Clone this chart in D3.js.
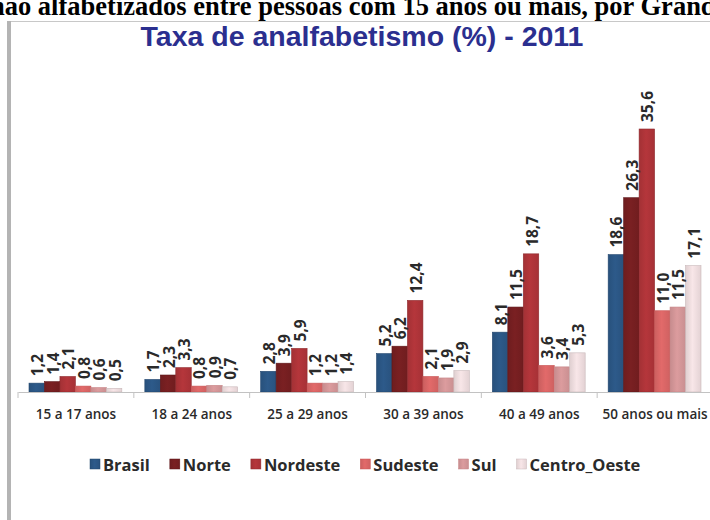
<!DOCTYPE html>
<html>
<head>
<meta charset="utf-8">
<script src="https://cdn.jsdelivr.net/npm/d3@7"></script>
<style>
  body { margin: 0; background: #fff; }
  svg { display: block; }
</style>
</head>
<body>
<div id="chart"></div>
<script>
// data
var categories = ["15 a 17 anos", "18 a 24 anos", "25 a 29 anos", "30 a 39 anos", "40 a 49 anos", "50 anos ou mais"];
var series = ["Brasil", "Norte", "Nordeste", "Sudeste", "Sul", "Centro_Oeste"];
var brasil      = [1.2, 1.7, 2.8, 5.2, 8.1, 18.6];
var norte       = [1.4, 2.3, 3.9, 6.2, 11.5, 26.3];
var nordeste    = [2.1, 3.3, 5.9, 12.4, 18.7, 35.6];
var sudeste     = [0.8, 0.8, 1.2, 2.1, 3.6, 11.0];
var sul         = [0.6, 0.9, 1.2, 1.9, 3.4, 11.5];
var centroOeste = [0.5, 0.7, 1.4, 2.9, 5.3, 17.1];
var values = [brasil, norte, nordeste, sudeste, sul, centroOeste];

var colors = ["#2d5a8a", "#7a2022", "#b5363b", "#e26a6a", "#dc9c9e", "#f8e6e8"];
var edges  = ["#23476e", "#5e1719", "#8f2a2e", "#c95555", "#c78486", "#c9b8ba"];

var width = 710, height = 520;

var svg = d3.select("#chart")
  .append("svg")
    .attr("width", width)
    .attr("height", height);

// cut-off page heading above the picture
svg.append("text")
  .attr("x", -10)
  .attr("y", 15)
  .style("font-family", "'Liberation Serif', 'Times New Roman', serif")
  .style("font-weight", "bold")
  .style("font-size", "26.5px")
  .style("fill", "#000")
  .text("não alfabetizados entre pessoas com 15 anos ou mais, por Grandes Regiões");

// picture frame
svg.append("line")
  .attr("x1", 9).attr("x2", width)
  .attr("y1", 21.5).attr("y2", 21.5)
  .attr("stroke", "#c8c8c8").attr("stroke-width", 1);
svg.append("rect")
  .attr("x", 7).attr("y", 21)
  .attr("width", 4).attr("height", height - 21)
  .attr("fill", "#b4b4b4");

// chart title
svg.append("text")
  .attr("x", 362)
  .attr("y", 46)
  .attr("text-anchor", "middle")
  .style("font-family", "'Liberation Sans', Arial, sans-serif")
  .style("font-weight", "bold")
  .style("font-size", "28.5px")
  .style("fill", "#2b2f8f")
  .text("Taxa de analfabetismo (%) - 2011");

// scales
var x0 = d3.scaleBand()
  .domain(categories)
  .range([18, 713]);

var x1 = d3.scaleBand()
  .domain(series)
  .range([11, x0.bandwidth() - 12]);

var y = d3.scaleLinear()
  .domain([0, 35.6])
  .range([392, 129]);

// gradients for the bar shine
var defs = svg.append("defs");
series.forEach(function(s, i) {
  var g = defs.append("linearGradient")
    .attr("id", "grad" + i)
    .attr("x1", "0%").attr("x2", "100%")
    .attr("y1", "0%").attr("y2", "0%");
  g.append("stop").attr("offset", "0%").attr("stop-color", d3.color(colors[i]).darker(0.3));
  g.append("stop").attr("offset", "45%").attr("stop-color", colors[i]);
  g.append("stop").attr("offset", "100%").attr("stop-color", d3.color(colors[i]).darker(0.25));
});

// bars
var groups = svg.selectAll("g.group")
  .data(categories)
  .enter()
  .append("g")
    .attr("class", "group")
    .attr("transform", function(d) { return "translate(" + x0(d) + ",0)"; });

groups.each(function(cat, ci) {
  var rows = series.map(function(s, si) { return {s: s, si: si, v: values[si][ci]}; });
  var g = d3.select(this);

  g.selectAll("rect")
    .data(rows)
    .enter()
    .append("rect")
      .attr("x", function(d) { return x1(d.s); })
      .attr("y", function(d) { return y(d.v); })
      .attr("width", x1.bandwidth())
      .attr("height", function(d) { return y(0) - y(d.v); })
      .attr("fill", function(d) { return "url(#grad" + d.si + ")"; })
      .attr("stroke", function(d) { return edges[d.si]; })
      .attr("stroke-width", 0.6);

  g.selectAll("text.val")
    .data(rows)
    .enter()
    .append("text")
      .attr("class", "val")
      .attr("transform", function(d) {
        return "translate(" + (x1(d.s) + x1.bandwidth() / 2 + 6.5) + "," + (y(d.v) - 7) + ")rotate(-90)";
      })
      .style("font-family", "'Open Sans', sans-serif")
      .style("font-weight", "bold")
      .style("font-size", "15.5px")
      .style("fill", "#2a2a2a")
      .text(function(d) { return d3.format(".1f")(d.v).replace(".", ","); });
});

// x axis
var xAxis = svg.append("g")
  .attr("transform", "translate(0,392)")
  .call(d3.axisBottom(x0).tickSize(0).tickPadding(17));
xAxis.select(".domain").attr("stroke", "#c2c2c2");
xAxis.selectAll("text")
  .style("font-family", "'Open Sans', sans-serif")
  .style("font-weight", "600")
  .style("font-size", "13.5px")
  .style("fill", "#2a2a2a");

// tick marks between categories
svg.selectAll("line.sep")
  .data(categories)
  .enter()
  .append("line")
    .attr("class", "sep")
    .attr("x1", function(d) { return x0(d); })
    .attr("x2", function(d) { return x0(d); })
    .attr("y1", 392).attr("y2", 398)
    .attr("stroke", "#c2c2c2");

// legend
var legend = svg.append("g").attr("transform", "translate(90,465)");
var lx = 0;
series.forEach(function(s, i) {
  var item = legend.append("g").attr("transform", "translate(" + lx + ",0)");
  item.append("rect")
    .attr("x", 0).attr("y", -6)
    .attr("width", 10).attr("height", 10)
    .attr("fill", "url(#grad" + i + ")")
    .attr("stroke", edges[i]).attr("stroke-width", 0.5);
  var t = item.append("text")
    .attr("x", 13)
    .attr("y", 5.5)
    .style("font-family", "'Open Sans', sans-serif")
    .style("font-weight", "bold")
    .style("font-size", "16.5px")
    .style("fill", "#2a2a2a")
    .text(s);
  lx += 13 + t.node().getComputedTextLength() + 20;
});
</script>
</body>
</html>
